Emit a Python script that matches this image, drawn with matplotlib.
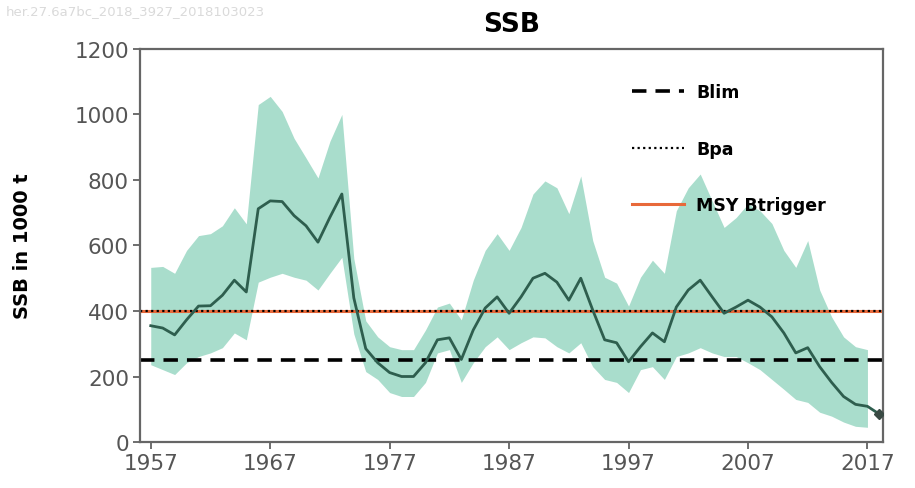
import numpy as np
import matplotlib.pyplot as plt

# Data (SSB in 1000 t)
years = list(range(1957, 2019))
ssb = [355, 348, 327, 373, 415, 416, 448, 494, 458, 712,
       736, 734, 691, 660, 610, 686, 757, 440, 285, 242,
       212, 200, 200, 242, 312, 318, 252, 342, 409, 443,
       393, 443, 500, 515, 488, 433, 500, 403, 312, 303,
       245, 291, 333, 306, 412, 464, 494, 443, 393, 412,
       433, 412, 382, 333, 272, 288, 230, 182, 139, 115,
       109, 85]
band_years = list(range(1957, 2018))
ssb_high = [533, 536, 515, 585, 630, 636, 660, 715, 666, 1030,
            1055, 1009, 927, 867, 806, 918, 1000, 560, 370, 321,
            291, 282, 282, 342, 412, 424, 373, 494, 585, 636,
            585, 655, 757, 797, 776, 697, 812, 615, 503, 485,
            415, 503, 555, 515, 706, 776, 818, 736, 655, 685,
            727, 706, 667, 585, 533, 615, 464, 382, 321, 291,
            282]
ssb_low = [236, 221, 206, 242, 261, 272, 288, 333, 312, 488,
           503, 515, 503, 494, 464, 515, 564, 330, 215, 191,
           151, 139, 139, 182, 272, 282, 182, 242, 291, 321,
           282, 303, 321, 318, 291, 272, 303, 230, 191, 182,
           151, 221, 230, 191, 261, 272, 288, 272, 261, 261,
           242, 221, 191, 161, 130, 121, 91, 79, 61, 48,
           45]
blim = 250
bpa = 400
msy_btrigger = 400
xticks = [1957, 1967, 1977, 1987, 1997, 2007, 2017]
yticks = [0, 200, 400, 600, 800, 1000, 1200]

fig = plt.figure(figsize=(9.15, 4.89), dpi=100)
ax = fig.add_axes([0.153, 0.094, 0.812, 0.804])

# confidence band and median
ax.fill_between(band_years, ssb_low, ssb_high, color='#a9ddcc', linewidth=0, zorder=1)
ax.plot(years, ssb, color='#2e5e4e', linewidth=2, zorder=3)
ax.plot(years[-1], ssb[-1], marker='D', markersize=5, color='#3a4a44', zorder=4)

# reference points
ax.axhline(msy_btrigger, color='#e8693a', linewidth=2.2, label='MSY Btrigger', zorder=2)
ax.axhline(bpa, color='black', linestyle=(0, (1, 1.5)), linewidth=1.6, label='Bpa', zorder=2)
ax.axhline(blim, color='black', linestyle=(0, (4, 2.5)), linewidth=2.6, label='Blim', zorder=2)

ax.set_xlim(1956.1, 2018.3)
ax.set_ylim(0, 1200)
ax.set_xticks(xticks)
ax.set_yticks(yticks)
ax.tick_params(colors='#555555', labelsize=15.5, length=5, width=1.2, pad=3,
               labelcolor='#555555')
for sp in ax.spines.values():
    sp.set_color('#666666')
    sp.set_linewidth(1.6)

ax.set_title('SSB', fontsize=19, fontweight='bold', pad=13)
ax.set_ylabel('SSB in 1000 t', fontsize=14, fontweight='bold')
ax.yaxis.set_label_coords(-0.145, 0.5)

# legend order as in the picture
h, l = ax.get_legend_handles_labels()
order = [2, 1, 0]
ax.legend([h[i] for i in order], [l[i] for i in order], loc='upper left',
          bbox_to_anchor=(0.662, 0.912), frameon=False, borderpad=0, borderaxespad=0,
          labelspacing=2.2, handlelength=3.0, handletextpad=0.7,
          prop={'weight': 'bold', 'size': 12.5})

fig.text(0.006, 0.97, 'her.27.6a7bc_2018_3927_2018103023', fontsize=9.5, color='#dadada')

fig.savefig('out.png', dpi=100)
